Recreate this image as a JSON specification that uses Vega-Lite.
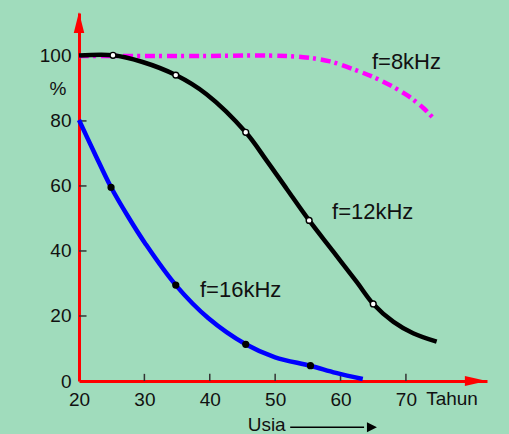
{
  "$schema": "https://vega.github.io/schema/vega-lite/v6.json",
  "width": 408,
  "height": 368,
  "autosize": {"type": "none"},
  "padding": {"left": 79, "top": 13, "right": 22, "bottom": 53},
  "background": "#a0dcbc",
  "config": {
    "view": {"stroke": null},
    "font": "Liberation Sans",
    "axis": {"grid": false, "title": null, "labelFont": "Liberation Sans", "labelFontSize": 19, "labelColor": "#111111", "domainColor": "#ff0000", "domainWidth": 3, "ticks": false, "labelFlush": false, "labelOverlap": false}
  },
  "datasets": {
    "curves": [
      {"series": "8kHz", "age": 20, "pct": 100},
      {"series": "8kHz", "age": 30, "pct": 100},
      {"series": "8kHz", "age": 40, "pct": 100},
      {"series": "8kHz", "age": 49, "pct": 100.1},
      {"series": "8kHz", "age": 54.3, "pct": 99.6},
      {"series": "8kHz", "age": 58.4, "pct": 98.3},
      {"series": "8kHz", "age": 62.5, "pct": 95.5},
      {"series": "8kHz", "age": 66, "pct": 92.6},
      {"series": "8kHz", "age": 70.1, "pct": 88},
      {"series": "8kHz", "age": 72.7, "pct": 83.9},
      {"series": "8kHz", "age": 74.2, "pct": 80.8},
      {"series": "12kHz", "age": 20, "pct": 100.1},
      {"series": "12kHz", "age": 25.2, "pct": 100.2},
      {"series": "12kHz", "age": 29.6, "pct": 98.2},
      {"series": "12kHz", "age": 34.8, "pct": 94.1},
      {"series": "12kHz", "age": 39.5, "pct": 88.2},
      {"series": "12kHz", "age": 45.5, "pct": 76.5},
      {"series": "12kHz", "age": 48.7, "pct": 67.8},
      {"series": "12kHz", "age": 51.8, "pct": 59},
      {"series": "12kHz", "age": 55.2, "pct": 49.4},
      {"series": "12kHz", "age": 58.9, "pct": 39.8},
      {"series": "12kHz", "age": 62.5, "pct": 30.4},
      {"series": "12kHz", "age": 65, "pct": 23.7},
      {"series": "12kHz", "age": 68.1, "pct": 18.2},
      {"series": "12kHz", "age": 71.1, "pct": 14.7},
      {"series": "12kHz", "age": 74.7, "pct": 12.1},
      {"series": "16kHz", "age": 20, "pct": 80.3},
      {"series": "16kHz", "age": 22.4, "pct": 70},
      {"series": "16kHz", "age": 24.9, "pct": 59.6},
      {"series": "16kHz", "age": 27.5, "pct": 50.6},
      {"series": "16kHz", "age": 30.1, "pct": 42.4},
      {"series": "16kHz", "age": 34.8, "pct": 29.5},
      {"series": "16kHz", "age": 39.8, "pct": 19.3},
      {"series": "16kHz", "age": 45.5, "pct": 11.3},
      {"series": "16kHz", "age": 50, "pct": 7.3},
      {"series": "16kHz", "age": 55.4, "pct": 4.7},
      {"series": "16kHz", "age": 59.3, "pct": 2.5},
      {"series": "16kHz", "age": 63.4, "pct": 0.6}
    ],
    "markers": [
      {"series": "12kHz", "age": 25.2, "pct": 100.2},
      {"series": "12kHz", "age": 34.8, "pct": 94.1},
      {"series": "12kHz", "age": 45.5, "pct": 76.5},
      {"series": "12kHz", "age": 55.2, "pct": 49.4},
      {"series": "12kHz", "age": 65, "pct": 23.7},
      {"series": "16kHz", "age": 24.9, "pct": 59.6},
      {"series": "16kHz", "age": 34.8, "pct": 29.5},
      {"series": "16kHz", "age": 45.5, "pct": 11.3},
      {"series": "16kHz", "age": 55.4, "pct": 4.7}
    ],
    "xticks": [{"age": 30}, {"age": 40}, {"age": 50}, {"age": 60}, {"age": 70}],
    "yticks": [{"pct": 20}, {"pct": 40}, {"pct": 60}, {"pct": 80}],
    "curveLabels": [
      {"label": "f=8kHz", "age": 64.8, "pct": 98.2},
      {"label": "f=12kHz", "age": 58.7, "pct": 52},
      {"label": "f=16kHz", "age": 38.5, "pct": 28}
    ],
    "axisLabels": [
      {"label": "%", "age": 16.8, "pct": 89.8},
      {"label": "Tahun", "age": 77.05, "pct": -5.4},
      {"label": "Usia", "age": 48.7, "pct": -13.4}
    ]
  },
  "layer": [
    {
      "data": {"name": "xticks"},
      "mark": {"type": "rule", "color": "#333333", "strokeWidth": 1.5},
      "encoding": {
        "x": {"field": "age", "type": "quantitative", "scale": {"domain": [20, 82.4], "nice": false, "zero": false}, "axis": {"values": [20, 30, 40, 50, 60, 70], "labelPadding": 9}},
        "y": {"datum": 0, "type": "quantitative", "scale": {"domain": [0, 113.2], "nice": false}, "axis": {"values": [0, 20, 40, 60, 80, 100], "labelPadding": 8}},
        "y2": {"datum": 2.2}
      }
    },
    {
      "data": {"name": "yticks"},
      "mark": {"type": "rule", "color": "#333333", "strokeWidth": 1.5},
      "encoding": {
        "y": {"field": "pct", "type": "quantitative"},
        "x": {"datum": 20, "type": "quantitative"},
        "x2": {"datum": 21.15}
      }
    },
    {
      "data": {"name": "curves"},
      "transform": [{"filter": "datum.series === '8kHz'"}],
      "mark": {"type": "line", "color": "#ff00ff", "strokeWidth": 4.5, "strokeDash": [10, 4, 3, 5], "interpolate": "catmull-rom"},
      "encoding": {
        "x": {"field": "age", "type": "quantitative"},
        "y": {"field": "pct", "type": "quantitative"}
      }
    },
    {
      "data": {"name": "curves"},
      "transform": [{"filter": "datum.series === '12kHz'"}],
      "mark": {"type": "line", "color": "#000000", "strokeWidth": 4.5, "interpolate": "catmull-rom"},
      "encoding": {
        "x": {"field": "age", "type": "quantitative"},
        "y": {"field": "pct", "type": "quantitative"}
      }
    },
    {
      "data": {"name": "curves"},
      "transform": [{"filter": "datum.series === '16kHz'"}],
      "mark": {"type": "line", "color": "#0000ff", "strokeWidth": 4.5, "interpolate": "catmull-rom"},
      "encoding": {
        "x": {"field": "age", "type": "quantitative"},
        "y": {"field": "pct", "type": "quantitative"}
      }
    },
    {
      "data": {"name": "markers"},
      "mark": {"type": "point", "filled": true, "size": 34, "strokeWidth": 1.4, "stroke": "#000000", "opacity": 1},
      "encoding": {
        "x": {"field": "age", "type": "quantitative"},
        "y": {"field": "pct", "type": "quantitative"},
        "fill": {"field": "series", "type": "nominal", "scale": {"domain": ["12kHz", "16kHz"], "range": ["#ffffff", "#000000"]}, "legend": null}
      }
    },
    {
      "data": {"values": [{}]},
      "mark": {"type": "point", "filled": true, "color": "#ff0000", "opacity": 1, "size": 484, "shape": "M-1,-0.45L1,0L-1,0.45Z"},
      "encoding": {
        "x": {"datum": 80.7, "type": "quantitative"},
        "y": {"datum": 0, "type": "quantitative"}
      }
    },
    {
      "data": {"values": [{}]},
      "mark": {"type": "point", "filled": true, "color": "#ff0000", "opacity": 1, "size": 441, "shape": "M-0.5,1L0,-1L0.5,1Z"},
      "encoding": {
        "x": {"datum": 20, "type": "quantitative"},
        "y": {"datum": 110.3, "type": "quantitative"}
      }
    },
    {
      "data": {"values": [{}]},
      "mark": {"type": "rule", "color": "#000000", "strokeWidth": 1.5},
      "encoding": {
        "x": {"datum": 52.3, "type": "quantitative"},
        "x2": {"datum": 63.6},
        "y": {"datum": -14.2, "type": "quantitative"}
      }
    },
    {
      "data": {"values": [{}]},
      "mark": {"type": "point", "filled": true, "color": "#000000", "opacity": 1, "size": 100, "shape": "M-1,-1L1,0L-1,1Z"},
      "encoding": {
        "x": {"datum": 64.8, "type": "quantitative"},
        "y": {"datum": -14.2, "type": "quantitative"}
      }
    },
    {
      "data": {"name": "curveLabels"},
      "mark": {"type": "text", "align": "left", "baseline": "middle", "fontSize": 22, "font": "Liberation Sans", "color": "#111111"},
      "encoding": {
        "x": {"field": "age", "type": "quantitative"},
        "y": {"field": "pct", "type": "quantitative"},
        "text": {"field": "label"}
      }
    },
    {
      "data": {"name": "axisLabels"},
      "mark": {"type": "text", "align": "center", "baseline": "middle", "fontSize": 19, "font": "Liberation Sans", "color": "#111111"},
      "encoding": {
        "x": {"field": "age", "type": "quantitative"},
        "y": {"field": "pct", "type": "quantitative"},
        "text": {"field": "label"}
      }
    }
  ]
}
